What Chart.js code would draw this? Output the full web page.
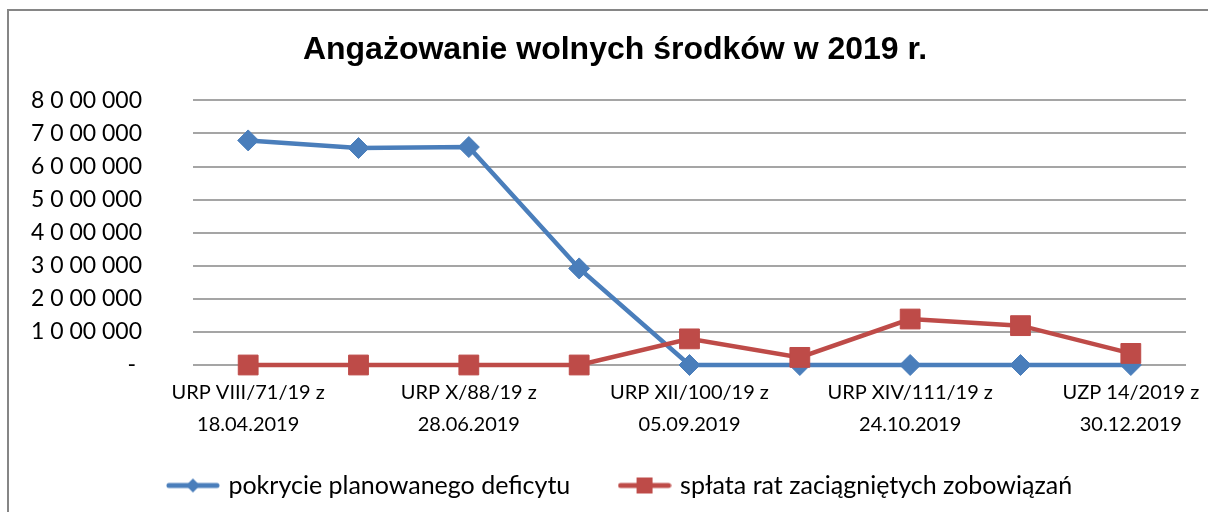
<!DOCTYPE html>
<html>
<head>
<meta charset="utf-8">
<title>Angażowanie wolnych środków w 2019 r.</title>
<script src="https://cdn.jsdelivr.net/npm/chart.js@4.4.0/dist/chart.umd.min.js"></script>
<style>
    html, body { margin: 0; padding: 0; background: #ffffff; }
    #wrap { position: relative; width: 1208px; height: 512px; overflow: hidden; }
    #frame {
        position: absolute; left: 7px; top: 9px; width: 1300px; height: 600px;
        border-left: 2px solid #868686; border-top: 2px solid #868686;
    }
    #chart { position: absolute; left: 0; top: 0; }
</style>
</head>
<body>
<div id="wrap">
    <div id="frame"></div>
    <canvas id="chart" width="1208" height="512"></canvas>
</div>
<script>
// Categories (every other one has no visible label in the source chart)
const categories = [
    ['URP VIII/71/19 z', '18.04.2019'],
    ['', ''],
    ['URP X/88/19 z', '28.06.2019'],
    ['', ''],
    ['URP XII/100/19 z', '05.09.2019'],
    ['', ''],
    ['URP XIV/111/19 z', '24.10.2019'],
    ['', ''],
    ['UZP 14/2019 z', '30.12.2019']
];

// Series values
const deficitCover = [6790000, 6560000, 6590000, 2920000, 0, 0, 0, 0, 0];
const debtRepayment = [0, 0, 0, 0, 790000, 230000, 1390000, 1190000, 350000];

const seriesNames = ['pokrycie planowanego deficytu', 'spłata rat zaciągniętych zobowiązań'];

// Y axis range / step
const yMax = 8000000;
const yStep = 1000000;

const BLUE = '#4a7ebb';
const RED = '#be4b48';

function formatTick(value) {
    if (value === 0) return '- ';
    return (value / 1000000) + ' 0 00 000';
}

// Legend icon: a short line with the marker in the middle
function legendIcon(color, shape) {
    const c = document.createElement('canvas');
    c.width = 54;
    c.height = 20;
    const g = c.getContext('2d');
    g.strokeStyle = color;
    g.fillStyle = color;
    g.lineWidth = 5;
    g.lineCap = 'round';
    g.beginPath();
    g.moveTo(3, 10);
    g.lineTo(51, 10);
    g.stroke();
    if (shape === 'diamond') {
        g.beginPath();
        g.moveTo(27, 3);
        g.lineTo(34, 10);
        g.lineTo(27, 17);
        g.lineTo(20, 10);
        g.closePath();
        g.fill();
    } else {
        g.fillRect(19, 2, 16, 16);
    }
    return c;
}

const icons = [legendIcon(BLUE, 'diamond'), legendIcon(RED, 'square')];

// nudge title and legend a bit to the right, like in the source
const boxShift = {
    id: 'boxShift',
    afterLayout(chart) {
        chart.legend.left += 13;
        chart.legend.right += 13;
        chart.titleBlock.left += 7;
        chart.titleBlock.right += 7;
    }
};

const ctx = document.getElementById('chart').getContext('2d');
new Chart(ctx, {
    type: 'line',
    data: {
        labels: categories,
        datasets: [{
            label: seriesNames[0],
            data: deficitCover,
            borderColor: BLUE,
            backgroundColor: BLUE,
            borderWidth: 4.5,
            pointStyle: 'rectRot',
            pointRadius: 10.5,
            pointHoverRadius: 10.5,
            pointBorderWidth: 1,
            tension: 0,
            clip: false,
            order: 1
        }, {
            label: seriesNames[1],
            data: debtRepayment,
            borderColor: RED,
            backgroundColor: RED,
            borderWidth: 4.5,
            pointStyle: 'rect',
            pointRadius: 14,
            pointHoverRadius: 14,
            pointBorderWidth: 1,
            tension: 0,
            clip: false,
            order: 0
        }]
    },
    options: {
        responsive: false,
        animation: false,
        layout: {
            padding: { left: 30, right: 22, top: 31, bottom: 4 }
        },
        plugins: {
            title: {
                display: true,
                text: 'Angażowanie wolnych środków w 2019 r.',
                color: '#000000',
                font: { family: '"Liberation Sans", Arial, sans-serif', size: 32, weight: 'bold' },
                padding: { top: 0, bottom: 31 }
            },
            legend: {
                position: 'bottom',
                labels: {
                    color: '#000000',
                    font: { family: 'Lato, sans-serif', size: 25 },
                    usePointStyle: true,
                    pointStyleWidth: 46,
                    padding: 20,
                    // keep the source order, extra gap after the first entry
                    generateLabels: (chart) => chart.data.datasets.map((ds, i) => ({
                        text: i === 0 ? ds.label + '\u2003\u2002' : ds.label,
                        pointStyle: icons[i],
                        fillStyle: ds.borderColor,
                        strokeStyle: ds.borderColor,
                        lineWidth: 0,
                        fontColor: '#000000',
                        hidden: false,
                        datasetIndex: i
                    }))
                }
            },
            tooltip: { enabled: false }
        },
        scales: {
            x: {
                offset: true,
                grid: { display: false, drawTicks: false },
                border: { display: false },
                // let the last label run into the right margin
                afterFit: (scale) => { scale.paddingRight = 0; },
                ticks: {
                    autoSkip: false,
                    maxRotation: 0,
                    color: '#000000',
                    padding: 12,
                    font: { family: 'Lato, sans-serif', size: 20, lineHeight: 1.6 }
                }
            },
            y: {
                min: 0,
                max: yMax,
                grid: { color: '#a5a5a5', lineWidth: 2, drawTicks: false },
                border: { display: false },
                afterFit: (scale) => { scale.width = 163; },
                ticks: {
                    stepSize: yStep,
                    autoSkip: false,
                    color: '#000000',
                    padding: 51,
                    font: { family: 'Lato, sans-serif', size: 23 },
                    callback: (value) => formatTick(value)
                }
            }
        }
    },
    plugins: [boxShift]
});
</script>
</body>
</html>
